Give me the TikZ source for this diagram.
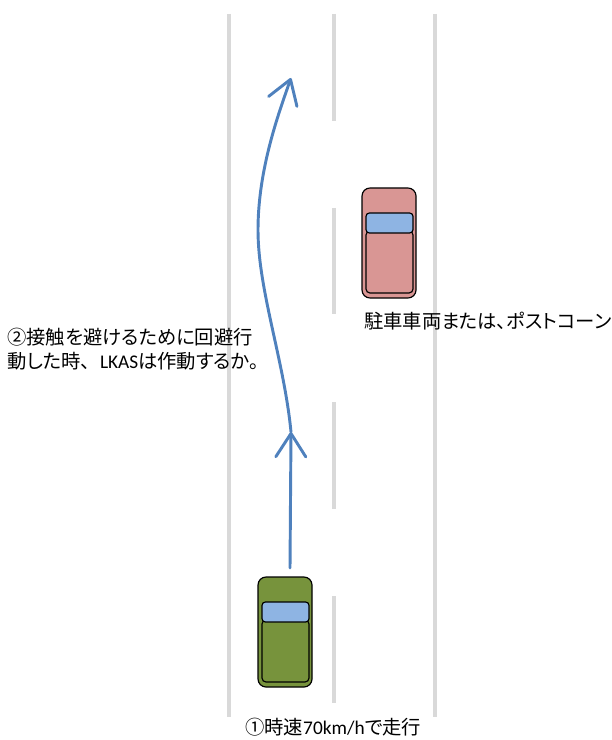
\documentclass[tikz,border=0pt]{standalone}
\usepackage{fontspec}
\newfontfamily\jp[RawFeature=+palt]{Noto Sans CJK JP}
\newfontfamily\jpfull{Noto Sans CJK JP}
\newfontfamily\latin{Carlito}
\usetikzlibrary{arrows.meta}

\definecolor{lanegray}{HTML}{D9D9D9}
\definecolor{routeblue}{HTML}{4F81BD}
\definecolor{olivecar}{HTML}{77933C}
\definecolor{rosecar}{HTML}{D99694}
\definecolor{glass}{HTML}{8EB4E3}

\tikzset{
  lane/.style={line width=3.4pt, draw=lanegray},
  route/.style={line width=2.5pt, draw=routeblue, line cap=round,
    -{Straight Barb[length=7mm, width=9mm, round]}},
  carbody/.style={line width=1pt, draw=black},
  label/.style={inner sep=0pt, anchor=west, align=left,
    font=\jp\fontsize{16.5}{20.5}\selectfont}
}

% car seen from above: body, rear cabin, windscreen
\def\drawcar(#1,#2)#3{%
  \begin{scope}[shift={(#1,#2)}]
    \draw[carbody, fill=#3, rounded corners=2.4mm] (0,0) rectangle (54,110);
    \draw[carbody, fill=#3, rounded corners=1.2mm] (4,43) rectangle (51,105);
    \draw[carbody, fill=glass, rounded corners=1mm] (4,25) rectangle (51,45);
  \end{scope}}

\begin{document}
\begin{tikzpicture}[x=0.03cm, y=-0.03cm]
  \useasboundingbox (0,0) rectangle (611,740);

  % road edges and centre line
  \draw[lane] (229,14) -- (229,717);
  \draw[lane] (435,14) -- (435,717);
  \foreach \a/\b in {14/121, 208/314, 402/509, 596/703}
    \draw[lane] (334,\a) -- (334,\b);

  % cars
  \drawcar(258,577){olivecar}
  \drawcar(362,188){rosecar}

  % path of the moving car
  \coordinate (start) at (290,568);
  \coordinate (mid) at (291,432);
  \coordinate (bend) at (258,230);
  \coordinate (tip) at (291,78);
  \draw[route] (start) -- (mid);
  \draw[route] (mid) .. controls (284,360) and (258,290) .. (bend)
    .. controls (258,170) and (278,115) .. (tip);

  % labels
  \node[label] (question) at (7,349)
    {②接触を避けるために回避行\\動した時{\jpfull 、}{\latin LKAS}は作動するか。};
  \node[label] (parked) at (364,321) {駐車車両または、ポストコーン};
  \node[label] (speed) at (245,727) {①時速{\latin 70km/h}で走行};
\end{tikzpicture}
\end{document}
